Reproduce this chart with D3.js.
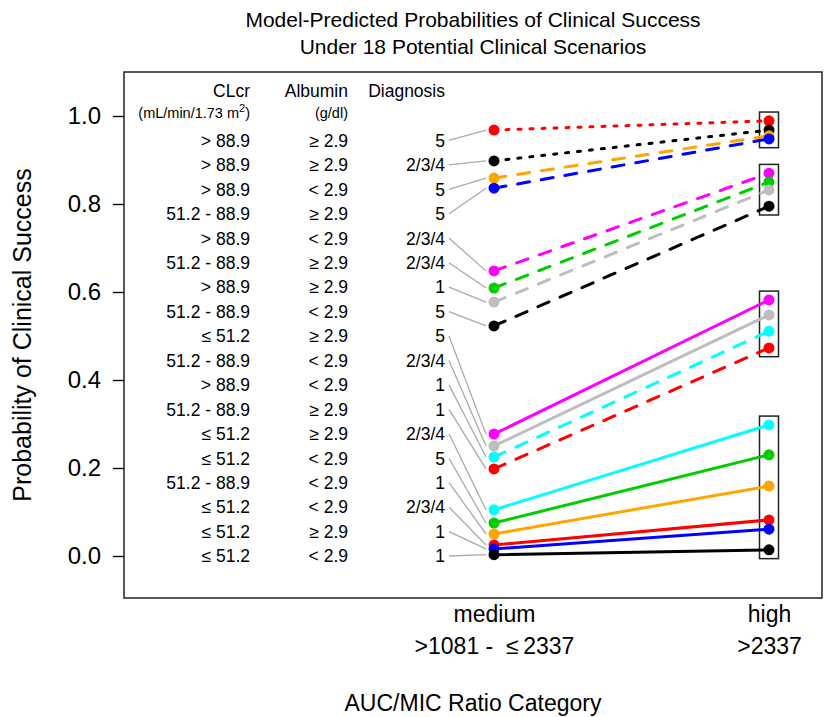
<!DOCTYPE html>
<html>
<head>
<meta charset="utf-8">
<title>Clinical success probabilities</title>
<script src="https://d3js.org/d3.v7.min.js"></script>
<style>
  body { margin: 0; background: #fff; }
  svg text { font-family: "Liberation Sans", Arial, sans-serif; fill: #000; }
</style>
</head>
<body>
<div id="chart"></div>
<script>
// scenario table (top row first)
var clcr = ["> 88.9", "> 88.9", "> 88.9", "51.2 - 88.9", "> 88.9", "51.2 - 88.9",
            "> 88.9", "51.2 - 88.9", "\u2264 51.2", "51.2 - 88.9", "> 88.9", "51.2 - 88.9",
            "\u2264 51.2", "\u2264 51.2", "51.2 - 88.9", "\u2264 51.2", "\u2264 51.2", "\u2264 51.2"];
var albumin = ["\u2265 2.9", "\u2265 2.9", "< 2.9", "\u2265 2.9", "< 2.9", "\u2265 2.9",
               "\u2265 2.9", "< 2.9", "\u2265 2.9", "< 2.9", "< 2.9", "\u2265 2.9",
               "\u2265 2.9", "< 2.9", "< 2.9", "< 2.9", "\u2265 2.9", "< 2.9"];
var diagnosis = ["5", "2/3/4", "5", "5", "2/3/4", "2/3/4", "1", "5", "5",
                 "2/3/4", "1", "1", "2/3/4", "5", "1", "2/3/4", "1", "1"];

// predicted probabilities per AUC/MIC category
var medium = [0.968, 0.898, 0.859, 0.836, 0.648, 0.609, 0.577, 0.523, 0.277,
              0.250, 0.225, 0.198, 0.105, 0.075, 0.050, 0.025, 0.016, 0.003];
var high   = [0.989, 0.968, 0.955, 0.948, 0.870, 0.850, 0.832, 0.795, 0.582,
              0.548, 0.511, 0.473, 0.298, 0.230, 0.159, 0.082, 0.061, 0.014];

var colors = ["red", "black", "orange", "blue", "magenta", "#00CD00", "#BEBEBE", "black", "magenta",
              "#BEBEBE", "cyan", "red", "cyan", "#00CD00", "orange", "red", "blue", "black"];
var lineTypes = ["dotted", "dotted", "dashed", "dashed", "dashed", "dashed", "dashed", "dashed", "solid",
                 "solid", "dashed", "dashed", "solid", "solid", "solid", "solid", "solid", "solid"];

var categories = ["medium", "high"];
var categoryRanges = [">1081 -\u00A0\u00A0\u2264\u20092337", ">2337"];
var groups = [[0, 3], [4, 7], [8, 11], [12, 17]];
var yTicks = [0, 0.2, 0.4, 0.6, 0.8, 1.0];

var W = 834, H = 717;
var box = {left: 124, top: 72, right: 822, bottom: 598};

var svg = d3.select("#chart").append("svg")
    .attr("width", W)
    .attr("height", H);

var x = d3.scalePoint()
    .domain(categories)
    .range([494, 769]);

var y = d3.scaleLinear()
    .domain([0, 1])
    .range([556, 116]);

// y axis
var yAxis = svg.append("g")
    .attr("transform", "translate(" + box.left + ",0)")
    .call(d3.axisLeft(y).tickValues(yTicks).tickFormat(d3.format(".1f")).tickSize(11).tickPadding(12));
yAxis.select(".domain").remove();
yAxis.selectAll("line").attr("stroke", "#000").attr("stroke-width", 1.3);
yAxis.selectAll("text").style("font-size", "24px").attr("font-family", null);

// x axis labels (two lines)
var xAxis = svg.append("g")
    .attr("transform", "translate(0," + box.bottom + ")")
    .call(d3.axisBottom(x).tickSize(0).tickPadding(0));
xAxis.select(".domain").remove();
xAxis.selectAll("text").remove();
xAxis.selectAll(".tick").append("text")
    .attr("text-anchor", "middle")
    .style("font-size", "23px")
    .each(function(d, i) {
      var t = d3.select(this);
      t.append("tspan").attr("x", 0).attr("y", 24).text(d);
      t.append("tspan").attr("x", 0).attr("y", 56).text(categoryRanges[i]);
    });

// frame
svg.append("rect")
    .attr("x", box.left).attr("y", box.top)
    .attr("width", box.right - box.left).attr("height", box.bottom - box.top)
    .attr("fill", "none").attr("stroke", "#222").attr("stroke-width", 1.5);

// titles
svg.append("text").attr("x", 473).attr("y", 27).attr("text-anchor", "middle")
    .style("font-size", "21px").text("Model-Predicted Probabilities of Clinical Success");
svg.append("text").attr("x", 473).attr("y", 54).attr("text-anchor", "middle")
    .style("font-size", "21px").text("Under 18 Potential Clinical Scenarios");
svg.append("text").attr("x", 473).attr("y", 711).attr("text-anchor", "middle")
    .style("font-size", "23px").text("AUC/MIC Ratio Category");
svg.append("text")
    .attr("transform", "translate(31," + ((box.top + box.bottom) / 2) + ") rotate(-90)")
    .attr("text-anchor", "middle")
    .style("font-size", "25px").text("Probability of Clinical Success");

// table headers
var colX = [250, 348, 445];
var header = svg.append("g").attr("text-anchor", "end");
header.append("text").attr("x", colX[0]).attr("y", 97).style("font-size", "17.5px").text("CLcr");
var unit = header.append("text").attr("x", colX[0]).attr("y", 118).style("font-size", "14.5px");
unit.append("tspan").text("(mL/min/1.73 m");
unit.append("tspan").attr("dy", -6).style("font-size", "11px").text("2");
unit.append("tspan").attr("dy", 6).text(")");
header.append("text").attr("x", colX[1]).attr("y", 97).style("font-size", "17.5px").text("Albumin");
header.append("text").attr("x", colX[1]).attr("y", 118).style("font-size", "14.5px").text("(g/dl)");
header.append("text").attr("x", colX[2]).attr("y", 97).style("font-size", "17.5px").text("Diagnosis");

// table rows: row k from the bottom sits at k/18
var n = medium.length;
function rowY(i) { return y((n - 1 - i) / n); }

var rows = svg.append("g").attr("text-anchor", "end").style("font-size", "17.5px");
[clcr, albumin, diagnosis].forEach(function(col, c) {
  rows.selectAll(".col" + c)
    .data(col)
    .enter().append("text")
    .attr("class", "col" + c)
    .attr("x", colX[c])
    .attr("y", function(d, i) { return rowY(i); })
    .attr("dy", "0.36em")
    .text(function(d) { return d; });
});

// leader lines from diagnosis to medium points
svg.append("g").selectAll("line")
    .data(medium)
    .enter().append("line")
    .attr("x1", colX[2] + 4)
    .attr("y1", function(d, i) { return rowY(i); })
    .attr("x2", x("medium") - 8)
    .attr("y2", function(d) { return y(d); })
    .attr("stroke", "#AAAAAA")
    .attr("stroke-width", 1.3);

// group boxes at high
svg.append("g").selectAll("rect")
    .data(groups)
    .enter().append("rect")
    .attr("x", x("high") - 9.5)
    .attr("width", 19)
    .attr("y", function(g) { return y(d3.max(high.slice(g[0], g[1] + 1)) + 0.02); })
    .attr("height", function(g) {
      return y(d3.min(high.slice(g[0], g[1] + 1)) - 0.02) - y(d3.max(high.slice(g[0], g[1] + 1)) + 0.02);
    })
    .attr("fill", "none")
    .attr("stroke", "#222")
    .attr("stroke-width", 1.5);

// series
var dash = {solid: null, dashed: "12,12", dotted: "3,9"};
var line = d3.line().x(function(d) { return x(d[0]); }).y(function(d) { return y(d[1]); });

var series = svg.append("g").selectAll("g")
    .data(medium.map(function(m, i) { return [["medium", m], ["high", high[i]]]; }))
    .enter().append("g");

series.append("path")
    .attr("d", line)
    .attr("fill", "none")
    .attr("stroke", function(d, i) { return colors[i]; })
    .attr("stroke-width", 3)
    .attr("stroke-linecap", "round")
    .attr("stroke-dasharray", function(d, i) { return dash[lineTypes[i]]; });

series.each(function(d, i) {
  d3.select(this).selectAll("circle")
    .data(d)
    .enter().append("circle")
    .attr("cx", function(p) { return x(p[0]); })
    .attr("cy", function(p) { return y(p[1]); })
    .attr("r", 5.5)
    .attr("fill", colors[i]);
});
</script>
</body>
</html>
